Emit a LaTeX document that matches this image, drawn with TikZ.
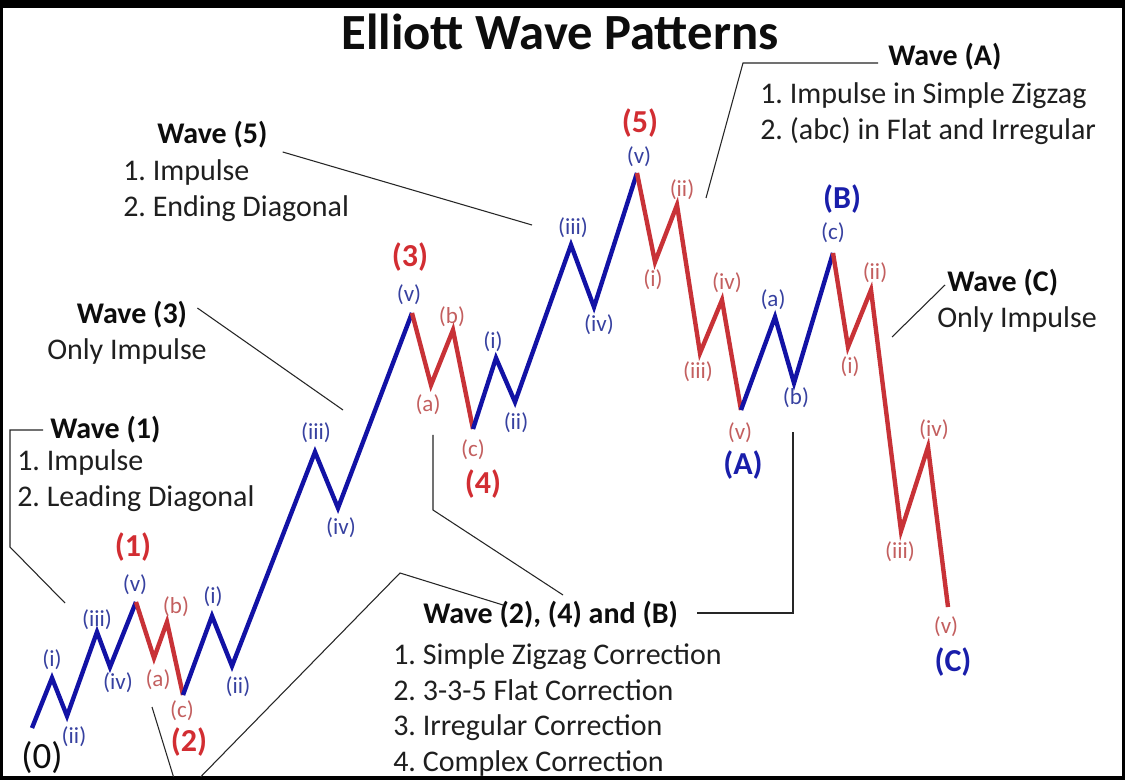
\documentclass[tikz,border=0pt]{standalone}
\usepackage{fontspec}
\setmainfont{Carlito}
\frenchspacing
\definecolor{wblue}{RGB}{18,18,165}
\definecolor{wred}{RGB}{200,50,55}
\definecolor{sblue}{RGB}{55,65,160}
\definecolor{sred}{RGB}{195,95,95}
\definecolor{bred}{RGB}{210,45,50}
\definecolor{bblue}{RGB}{25,30,170}

\begin{document}
\begin{tikzpicture}[x=0.75pt,y=-0.75pt,
  upwave/.style={wblue,line width=3.3pt,line join=miter},
  downwave/.style={wred,line width=3.3pt,line join=miter},
  leader/.style={black!85,line width=0.8pt},
  lab/.style={inner sep=0pt,font=\fontsize{17.25}{20}\selectfont},
  bluelab/.style={lab,text=sblue},
  redlab/.style={lab,text=sred},
  bigred/.style={inner sep=0pt,text=bred,font=\fontsize{24}{28}\selectfont\bfseries},
  bigblue/.style={inner sep=0pt,text=bblue,font=\fontsize{24}{28}\selectfont\bfseries},
  heading/.style={inner sep=0pt,text=black!95,font=\fontsize{22.5}{26.6}\selectfont\bfseries},
  listtxt/.style={inner sep=0pt,text=black!88,align=left,anchor=west,font=\fontsize{22.5}{26.6}\selectfont}]
\useasboundingbox (0,0) rectangle (1125,780);
\fill[black] (0,0) rectangle (1125,780);
\fill[white] (3,8) rectangle (1122,776);

\node[inner sep=0pt,text=black!95,font=\fontsize{38}{44}\selectfont\bfseries] (title) at (560,32) {Elliott Wave Patterns};

\draw[upwave] (32,728) -- (52,678) -- (67,716) -- (97,632) -- (110,667) -- (136,602);
\draw[downwave] (136,602) -- (154,658) -- (167,622) -- (183,695);
\draw[upwave] (183,695) -- (212,616) -- (232,666) -- (315,452) -- (338,508) -- (412,313);
\draw[downwave] (412,313) -- (431,385) -- (453,330) -- (473,429);
\draw[upwave] (473,429) -- (496,358) -- (515,402) -- (571,245) -- (594,307) -- (637,173);
\draw[downwave] (637,173) -- (655,262) -- (677,205) -- (700,353) -- (722,300) -- (741,410);
\draw[upwave] (741,410) -- (775,317) -- (794,383) -- (833,253);
\draw[downwave] (833,253) -- (848,347) -- (871,290) -- (901,531) -- (928,447) -- (948,607);

\node[bluelab] (w1i) at (52,660) {(i)};
\node[bluelab] (w1ii) at (74,737) {(ii)};
\node[bluelab] (w1iii) at (97,620) {(iii)};
\node[bluelab] (w1iv) at (118,683) {(iv)};
\node[bluelab] (w1v) at (135,585) {(v)};
\node[redlab] (w2a) at (158,680) {(a)};
\node[redlab] (w2b) at (176,607) {(b)};
\node[redlab] (w2c) at (182,711) {(c)};
\node[bluelab] (w3i) at (213,597) {(i)};
\node[bluelab] (w3ii) at (238,687) {(ii)};
\node[bluelab] (w3iii) at (316,433) {(iii)};
\node[bluelab] (w3iv) at (341,528) {(iv)};
\node[bluelab] (w3v) at (409,295) {(v)};
\node[redlab] (w4a) at (428,405) {(a)};
\node[redlab] (w4b) at (452,317) {(b)};
\node[redlab] (w4c) at (473,450) {(c)};
\node[bluelab] (w5i) at (493,342) {(i)};
\node[bluelab] (w5ii) at (516,423) {(ii)};
\node[bluelab] (w5iii) at (573,228) {(iii)};
\node[bluelab] (w5iv) at (599,325) {(iv)};
\node[bluelab] (w5v) at (639,157) {(v)};
\node[redlab] (wAi) at (653,280) {(i)};
\node[redlab] (wAii) at (682,190) {(ii)};
\node[redlab] (wAiii) at (698,372) {(iii)};
\node[redlab] (wAiv) at (727,283) {(iv)};
\node[redlab] (wAv) at (740,433) {(v)};
\node[bluelab] (wBa) at (773,300) {(a)};
\node[bluelab] (wBb) at (796,398) {(b)};
\node[bluelab] (wBc) at (833,233) {(c)};
\node[redlab] (wCi) at (850,367) {(i)};
\node[redlab] (wCii) at (875,273) {(ii)};
\node[redlab] (wCiii) at (900,552) {(iii)};
\node[redlab] (wCiv) at (934,430) {(iv)};
\node[redlab] (wCv) at (946,627) {(v)};

\node[inner sep=0pt,text=black!95,font=\fontsize{27.75}{32}\selectfont] (n0) at (42,758) {(0)};
\node[bigred] (n1) at (133,547) {(1)};
\node[bigred] (n2) at (189,742) {(2)};
\node[bigred] (n3) at (410,257) {(3)};
\node[bigred] (n4) at (483,484) {(4)};
\node[bigred] (n5) at (640,123) {(5)};
\node[bigblue] (nA) at (743,465) {(A)};
\node[bigblue] (nB) at (842,199) {(B)};
\node[bigblue] (nC) at (953,662) {(C)};

\node[heading,anchor=west] (hw1) at (50,430) {Wave (1)};
\node[listtxt] (tx1) at (17,480.5) {1. Impulse\\2. Leading Diagonal};
\node[heading] (hw3) at (132,315) {Wave (3)};
\node[inner sep=0pt,text=black!88,font=\fontsize{22.5}{26.6}\selectfont] (tx3) at (127,352) {Only Impulse};
\node[heading,anchor=west] (hw5) at (157,135) {Wave (5)};
\node[listtxt] (tx5) at (123,190.5) {1. Impulse\\2. Ending Diagonal};
\node[heading,anchor=west] (hwA) at (888,57) {Wave (A)};
\node[listtxt] (txA) at (760,113.5) {1. Impulse in Simple Zigzag\\2. (abc) in Flat and Irregular};
\node[heading,anchor=west] (hw24B) at (423,615) {Wave (2), (4) and (B)};
\node[listtxt] (tx24B) at (393,710) {1. Simple Zigzag Correction\\2. 3-3-5 Flat Correction\\3. Irregular Correction\\4. Complex Correction};
\node[heading,anchor=west] (hwC) at (947,283) {Wave (C)};
\node[listtxt] (txC) at (937,320) {Only Impulse};

\coordinate (k1) at (10,547);
\coordinate (c1) at (65,603);
\coordinate (c3) at (343,410);
\coordinate (c5) at (532,225);
\coordinate (kA) at (743,63);
\coordinate (cA) at (706,198);
\coordinate (k2) at (400,573);
\coordinate (k2b) at (180,798);
\coordinate (c2) at (152,707);
\coordinate (k4) at (433,510);
\coordinate (c4) at (433,435);
\coordinate (cB) at (793,432);
\coordinate (cC) at (892,337);

\begin{scope}
\clip (3,8) rectangle (1122,776);
\draw[leader] (hw1.west) ++(-7,0) -| (k1) -- (c1);
\draw[leader] (hw3.east) ++(10,-7) -- (c3);
\draw[leader] (hw5.east) ++(15,17) -- (c5);
\draw[leader] (hwA.west) ++(-10,6) -- (kA) -- (cA);
\draw[leader] (hw24B.west) ++(80,-10) -- (k2) -- (k2b) -- (c2);
\draw[leader] (hw24B.west) ++(140,-20) -- (k4) -- (c4);
\draw[leader] (hw24B.east) ++(19,-2) -| (cB);
\draw[leader] (hwC.west) ++(-2,2) -- (cC);
\end{scope}
\end{tikzpicture}
\end{document}
